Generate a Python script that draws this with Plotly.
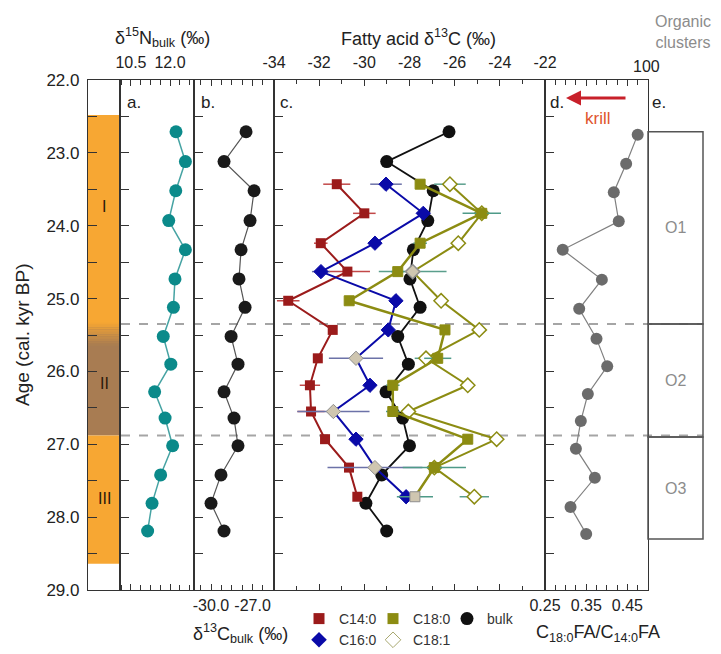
import plotly.graph_objects as go

# page body has an 8px margin: figure drawn from screen (8, 8)
OFF = 8
W, H = 713, 646


def px(x):
    return (x - OFF) / W


def py(y):
    return 1 - (y - OFF) / H


# ---------------- data ----------------
age_ticks = [22, 23, 24, 25, 26, 27, 28, 29]

# panels a & b (bulk isotopes)
age_bulk = [22.71, 23.12, 23.52, 23.93, 24.33, 24.73, 25.12, 25.52,
            25.90, 26.28, 26.64, 27.02, 27.42, 27.81, 28.19]
d15n_bulk = [12.23, 12.59, 12.22, 11.95, 12.59, 12.19, 12.13, 11.74,
             12.03, 11.41, 11.81, 12.10, 11.64, 11.31, 11.14]
d13c_bulk_b = [-27.47, -29.06, -26.89, -27.18, -27.83, -27.98, -27.54, -28.55,
               -28.05, -29.06, -28.34, -28.05, -29.28, -30.00, -29.06]
d15n_ticks = [10.5, 12.0]
d13c_bulk_ticks = [-30.0, -27.0]

# panel c (fatty acid d13C)
age_fa = [23.43, 23.83, 24.24, 24.63, 25.03, 25.43, 25.82, 26.19, 26.55, 26.93, 27.32, 27.72]
c14_0 = [-31.22, -30.00, -31.93, -30.75, -33.37, -31.40, -32.06, -32.41, -32.36, -31.74, -30.68, -30.31]
c14_0_err = [0.6, 0.5, 0.3, 1.0, 0.5, 0.0, 0.0, 0.45, 0.6, 0.0, 0.0, 0.0]
c16_0 = [-29.04, -27.39, -29.53, -31.92, -28.60, -28.94, -30.37, -29.75, -31.37, -30.37, -29.53, -28.15]
c16_0_err = [0.7, 0.3, 0.0, 0.4, 0.0, 0.0, 1.2, 0.0, 1.6, 0.0, 2.1, 0.0]
c16_0_flagged = [6, 8, 10]
c18_0 = [-27.53, -24.80, -27.53, -28.52, -30.67, -26.43, -26.75, -28.74, -28.74, -25.42, -26.90, -27.76]
c18_0_err = [0.0, 0.85, 0.3, 0.3, 0.0, 0.0, 0.6, 0.3, 0.3, 0.0, 1.4, 0.8]
c18_0_flagged = [11]
c18_1 = [-26.21, -24.80, -25.84, -27.86, -26.60, -24.91, -27.27, -25.42, -28.05, -24.14, -26.90, -25.13]
c18_1_err = [0.7, 0.0, 0.0, 1.5, 0.0, 0.0, 0.5, 0.0, 0.0, 0.0, 0.0, 0.65]
c18_1_flagged = [3]
d13c_bulk_c = [-26.25, -29.01, -26.95, -27.19, -27.83, -27.98, -27.53, -28.52,
               -28.05, -29.04, -28.30, -28.00, -29.23, -29.93, -29.01]
fa_ticks = [-34, -32, -30, -28, -26, -24, -22]

# panel d (ratio)
age_ratio = [22.75, 23.15, 23.54, 23.94, 24.33, 24.74, 25.14, 25.55,
             25.93, 26.31, 26.68, 27.06, 27.46, 27.86, 28.23]
ratio_c18_c14 = [0.475, 0.447, 0.417, 0.429, 0.293, 0.388, 0.333, 0.375,
                 0.401, 0.354, 0.337, 0.325, 0.371, 0.312, 0.350]
ratio_ticks = [0.25, 0.35, 0.45]

# zones / clusters
zone_boundaries = [25.35, 26.88]
unit_names = ["I", "II", "III"]
unit_top = [22.48, 25.35, 26.88]
unit_bottom = [25.35, 26.88, 28.64]
unit_label_age = [23.74, 26.17, 27.75]
cluster_names = ["O1", "O2", "O3"]
cluster_top = [22.71, 25.35, 26.90]
cluster_bottom = [25.35, 26.90, 28.30]

# ---------------- styling ----------------
FONT = "Liberation Sans, Arial, sans-serif"
AX = "#333333"
ORANGE = (247, 167, 51)
BROWN = (168, 124, 82)
RED = "#9B1B1B"
BLUE = "#0A0AA8"
OLIVE = "#8C8C12"
TAN = "#CFC6B0"
TAN_LINE = "#8E8E8E"

ydom = [py(590), py(80)]

fig = go.Figure()

# panel a
fig.add_trace(go.Scatter(x=d15n_bulk, y=age_bulk, xaxis="x2", yaxis="y2", mode="lines+markers",
                         line=dict(color="#46A3A3", width=1.5),
                         marker=dict(color="#0B8A8A", size=13), showlegend=False))
# panel b
fig.add_trace(go.Scatter(x=d13c_bulk_b, y=age_bulk, xaxis="x3", yaxis="y3", mode="lines+markers",
                         line=dict(color="#555555", width=1.2),
                         marker=dict(color="#1A1A1A", size=13), showlegend=False))


def flag_colors(n, flagged, base):
    return [TAN if i in flagged else base for i in range(n)]


# panel c
fig.add_trace(go.Scatter(x=d13c_bulk_c, y=age_bulk, xaxis="x4", yaxis="y4", mode="lines+markers",
                         line=dict(color="#111111", width=1.8),
                         marker=dict(color="#111111", size=13), showlegend=False))
fig.add_trace(go.Scatter(x=c14_0, y=age_fa, xaxis="x4", yaxis="y4", mode="lines+markers",
                         line=dict(color=RED, width=2),
                         marker=dict(symbol="square", color=RED, size=10),
                         error_x=dict(type="data", array=c14_0_err, color="#C24848", thickness=1.5, width=0),
                         showlegend=False))
fig.add_trace(go.Scatter(x=c16_0, y=age_fa, xaxis="x4", yaxis="y4", mode="lines+markers",
                         line=dict(color=BLUE, width=2),
                         marker=dict(symbol="diamond", size=11,
                                     color=flag_colors(len(c16_0), c16_0_flagged, BLUE),
                                     line=dict(width=1, color=[TAN_LINE if i in c16_0_flagged else BLUE
                                                               for i in range(len(c16_0))])),
                         error_x=dict(type="data", array=c16_0_err, color="#6C72A8", thickness=1.5, width=0),
                         showlegend=False))
fig.add_trace(go.Scatter(x=c18_1, y=age_fa, xaxis="x4", yaxis="y4", mode="lines+markers",
                         line=dict(color=OLIVE, width=2),
                         marker=dict(symbol="diamond", size=11,
                                     color=["#CFC6B0" if i in c18_1_flagged else "white" for i in range(len(c18_1))],
                                     line=dict(width=1.5, color=[TAN_LINE if i in c18_1_flagged else OLIVE
                                                                 for i in range(len(c18_1))])),
                         error_x=dict(type="data", array=c18_1_err, color="#5A9E8C", thickness=1.5, width=0),
                         showlegend=False))
fig.add_trace(go.Scatter(x=c18_0, y=age_fa, xaxis="x4", yaxis="y4", mode="lines+markers",
                         line=dict(color=OLIVE, width=2.5),
                         marker=dict(symbol="square", size=10,
                                     color=flag_colors(len(c18_0), c18_0_flagged, OLIVE),
                                     line=dict(width=1, color=[TAN_LINE if i in c18_0_flagged else OLIVE
                                                               for i in range(len(c18_0))])),
                         error_x=dict(type="data", array=c18_0_err, color="#4E9A88", thickness=1.5, width=0),
                         showlegend=False))
# panel d
fig.add_trace(go.Scatter(x=ratio_c18_c14, y=age_ratio, xaxis="x5", yaxis="y5", mode="lines+markers",
                         line=dict(color="#808080", width=1.2),
                         marker=dict(color="#6B6B6B", size=12), showlegend=False))

# legend-only entries
legend_entries = [
    ("C14:0", dict(symbol="square", color=RED, size=11), "legend"),
    ("C16:0", dict(symbol="diamond", color=BLUE, size=12), "legend"),
    ("C18:0", dict(symbol="square", color=OLIVE, size=11), "legend2"),
    ("C18:1", dict(symbol="diamond", color="white", size=12, line=dict(color="#A8A870", width=1)), "legend2"),
    ("bulk", dict(symbol="circle", color="#111111", size=13), "legend3"),
]
for name, mk, lg in legend_entries:
    fig.add_trace(go.Scatter(x=[None], y=[None], xaxis="x4", yaxis="y4", mode="markers",
                             name=name, marker=mk, legend=lg, showlegend=True))

# ---------------- axes ----------------
tickfont = dict(family=FONT, size=16, color="#222222")
ybase = dict(range=[29, 22], domain=ydom, showline=True, linecolor=AX, linewidth=1.2,
             mirror=True, ticks="inside", ticklen=9, tickcolor=AX, showgrid=False,
             zeroline=False, tickmode="linear", tick0=22, automargin=False)

layout = dict(
    width=W, height=H, margin=dict(l=0, r=0, t=0, b=0, pad=0, autoexpand=False),
    paper_bgcolor="white", plot_bgcolor="rgba(0,0,0,0)",
    font=dict(family=FONT, color="#222222"),
)

layout["yaxis"] = dict(ybase, anchor="x", dtick=1, tickformat=".1f",
                       tickfont=dict(family=FONT, size=17, color="#222222"),
                       ticklabelstandoff=4,
                       minor=dict(dtick=0.5, ticks="inside", ticklen=9, tickcolor=AX))
for k in range(2, 6):
    layout[f"yaxis{k}"] = dict(ybase, anchor=f"x{k}", dtick=0.5, showticklabels=False)

xbase = dict(showline=True, linecolor=AX, linewidth=1.2, mirror="ticks", ticks="inside",
             ticklen=6, tickcolor=AX, showgrid=False, zeroline=False, tickfont=tickfont,
             automargin=False)

layout["xaxis"] = dict(domain=[px(88), px(120)], range=[0, 1], anchor="y", showline=True,
                       linecolor=AX, linewidth=1.2, mirror=True, ticks="", showticklabels=False,
                       showgrid=False, zeroline=False, automargin=False)
layout["xaxis2"] = dict(xbase, domain=[px(120), px(194)], range=[10.08, 12.92], anchor="y2",
                        side="top", tickmode="array", tickvals=d15n_ticks, ticklabelstandoff=5,
                        ticktext=[f"{v:.1f}" for v in d15n_ticks],
                        minor=dict(tick0=10.5, dtick=0.375, ticks="inside", ticklen=5, tickcolor=AX))
layout["xaxis3"] = dict(xbase, domain=[px(194), px(274)], range=[-31.23, -25.45], anchor="y3",
                        side="bottom", tickmode="array", tickvals=d13c_bulk_ticks, ticklabelstandoff=1,
                        ticktext=[f"{v:.1f}" for v in d13c_bulk_ticks],
                        minor=dict(tick0=-30, dtick=0.75, ticks="inside", ticklen=5, tickcolor=AX))
layout["xaxis4"] = dict(xbase, domain=[px(274), px(545)], range=[-34, -22], anchor="y4",
                        side="top", tickmode="array", tickvals=fa_ticks, ticklabelstandoff=5,
                        ticktext=[f"{v}" for v in fa_ticks],
                        minor=dict(tick0=-34, dtick=1, ticks="inside", ticklen=4, tickcolor=AX))
layout["xaxis5"] = dict(xbase, domain=[px(545), px(648)], range=[0.25, 0.50], anchor="y5",
                        side="bottom", tickmode="array", tickvals=ratio_ticks, ticklabelstandoff=1,
                        ticktext=[f"{v:.2f}" for v in ratio_ticks],
                        minor=dict(tick0=0.25, dtick=0.025, ticks="inside", ticklen=5, tickcolor=AX))

legfont = dict(family=FONT, size=14, color="#333333")
for key, xl in (("legend", 299), ("legend2", 373), ("legend3", 447)):
    layout[key] = dict(x=px(xl), y=py(603), xanchor="left", yanchor="top", font=legfont,
                       bgcolor="rgba(0,0,0,0)", tracegroupgap=0, traceorder="normal")

fig.update_layout(**layout)

# ---------------- shapes ----------------
shapes = []
# stratigraphic column
for name, top, bot in zip(unit_names, unit_top, unit_bottom):
    col = BROWN if name == "II" else ORANGE
    shapes.append(dict(type="rect", xref="x domain", yref="y", x0=0, x1=1, y0=top, y1=bot,
                       fillcolor="rgb(%d,%d,%d)" % col, line=dict(width=0), layer="below"))
# gradient at top of unit II
n_band = 10
g0, g1 = unit_top[1] - 0.02, unit_top[1] + 0.30
for i in range(n_band):
    t = (i + 0.5) / n_band
    c = tuple(int(ORANGE[j] + (BROWN[j] - ORANGE[j]) * t) for j in range(3))
    shapes.append(dict(type="rect", xref="x domain", yref="y", x0=0, x1=1,
                       y0=g0 + (g1 - g0) * i / n_band, y1=g0 + (g1 - g0) * (i + 1) / n_band,
                       fillcolor="rgb(%d,%d,%d)" % c, line=dict(width=0), layer="below"))
# zone boundaries
for b in zone_boundaries:
    shapes.append(dict(type="line", xref="paper", yref="y", x0=px(121), x1=px(703), y0=b, y1=b,
                       line=dict(color="#A5A5A5", width=2, dash="dash"), layer="below"))
# cluster boxes
for name, top, bot in zip(cluster_names, cluster_top, cluster_bottom):
    shapes.append(dict(type="rect", xref="paper", yref="y", x0=px(648), x1=px(703), y0=top, y1=bot,
                       line=dict(color="#555555", width=1.5), fillcolor="rgba(0,0,0,0)"))
fig.update_layout(shapes=shapes)

# ---------------- annotations ----------------
ann = []


def txt(x, y, s, size=16, color="#222222", **kw):
    ann.append(dict(x=px(x), y=py(y), xref="paper", yref="paper", text=s, showarrow=False,
                    xanchor="center", yanchor="middle",
                    font=dict(family=FONT, size=size, color=color), **kw))


txt(162, 38, "δ<sup>15</sup>N<sub>bulk</sub> (‰)", 18)
txt(418, 38, "Fatty acid δ<sup>13</sup>C (‰)", 18)
txt(683, 32, "Organic<br>clusters", 16, "#8C8C8C")
txt(646, 66, "100", 16)
txt(240, 633, "δ<sup>13</sup>C<sub>bulk</sub> (‰)", 18)
txt(598, 633, "C<sub>18:0</sub>FA/C<sub>14:0</sub>FA", 18)
txt(22, 335, "Age (cal. kyr BP)", 19, textangle=-90)
for lab, xx in (("a.", 134), ("b.", 208), ("c.", 286), ("d.", 557), ("e.", 659)):
    txt(xx, 102, lab, 17)
txt(598, 119, "krill", 17, "#E0552E")
ann.append(dict(x=px(566), y=py(98), xref="paper", yref="paper", ax=61, ay=0,
                axref="pixel", ayref="pixel", text="", showarrow=True, arrowhead=2,
                arrowsize=1, arrowwidth=3, arrowcolor="#C8202A"))
for name, a in zip(unit_names, unit_label_age):
    ann.append(dict(x=0.5, y=a, xref="x domain", yref="y", text=name, showarrow=False,
                    xanchor="center", yanchor="middle",
                    font=dict(family=FONT, size=16, color="#2B1A0A")))
for name, top, bot in zip(cluster_names, cluster_top, cluster_bottom):
    ann.append(dict(x=px(675.5), y=(top + bot) / 2, xref="paper", yref="y", text=name,
                    showarrow=False, xanchor="center", yanchor="middle",
                    font=dict(family=FONT, size=16, color="#8C8C8C")))
fig.update_layout(annotations=ann)

fig.write_html("out.html")
